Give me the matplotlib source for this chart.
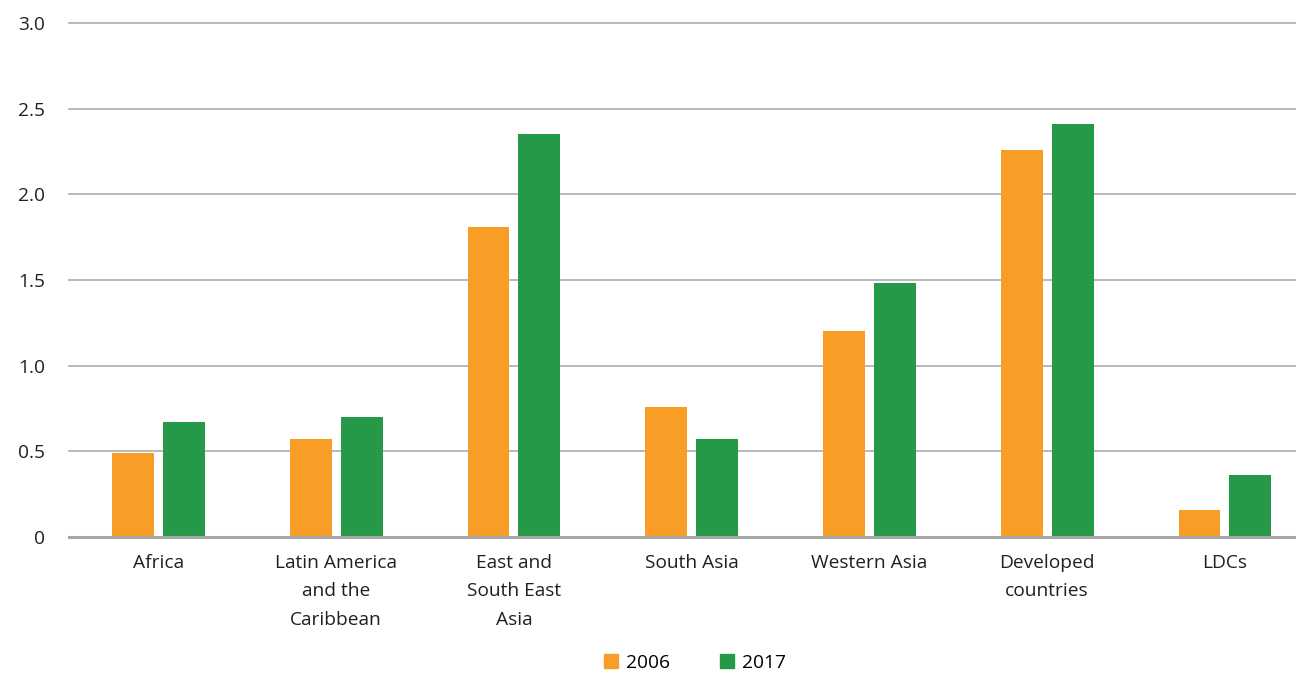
import numpy as np
import matplotlib
matplotlib.use("Agg")
import matplotlib.pyplot as plt
from matplotlib.patches import Patch

# Values
regions = ["Africa", "Latin America\nand the\nCaribbean", "East and\nSouth East\nAsia",
           "South Asia", "Western Asia", "Developed\ncountries", "LDCs"]
values_2006 = [0.49, 0.57, 1.81, 0.76, 1.20, 2.26, 0.16]
values_2017 = [0.67, 0.70, 2.35, 0.57, 1.48, 2.41, 0.36]
y_ticks = [0, 0.5, 1.0, 1.5, 2.0, 2.5, 3.0]
y_labels = ["0", "0.5", "1.0", "1.5", "2.0", "2.5", "3.0"]

ORANGE = "#F89D25"
GREEN = "#259948"
GRID = "#A6A6A6"
TEXT = "#231F20"
FS = 13.8

plt.rcParams['font.family'] = ['Open Sans', 'DejaVu Sans']

fig = plt.figure(figsize=(12.96, 6.73), dpi=100)
ax = fig.add_axes([69 / 1296, 1 - 537 / 673, 1 - 69 / 1296, (537 - 23) / 673])

x = np.arange(len(regions))
w = 0.236
off = 0.143
ax.bar(x - off, values_2006, width=w, color=ORANGE, zorder=2)
ax.bar(x + off, values_2017, width=w, color=GREEN, zorder=2)

# gridlines (behind bars) and a heavier baseline on top
for t in y_ticks[1:]:
    ax.axhline(t, color=GRID, lw=1.1, zorder=1, clip_on=False)
ax.axhline(0, color=GRID, lw=2.2, zorder=3, clip_on=False)

ax.set_xlim(-0.503, 6.40)
ax.set_ylim(0, 3.0)
ax.set_yticks(y_ticks)
ax.set_yticklabels(y_labels, fontsize=FS, color=TEXT)
ax.set_xticks(x)
ax.set_xticklabels(regions, fontsize=FS, color=TEXT, linespacing=1.75, va="top")
ax.tick_params(axis="both", length=0)
ax.tick_params(axis="y", pad=17)
ax.tick_params(axis="x", pad=12)
for s in ax.spines.values():
    s.set_visible(False)

handles = [Patch(color=ORANGE, label="2006"), Patch(color=GREEN, label="2017")]
fig.legend(handles=handles, loc="center", bbox_to_anchor=(695 / 1296, 1 - 663 / 673),
           ncol=2, frameon=False, fontsize=FS, handlelength=0.75, handleheight=0.75,
           handletextpad=0.4, columnspacing=2.6)

fig.savefig("out.png", dpi=100)
